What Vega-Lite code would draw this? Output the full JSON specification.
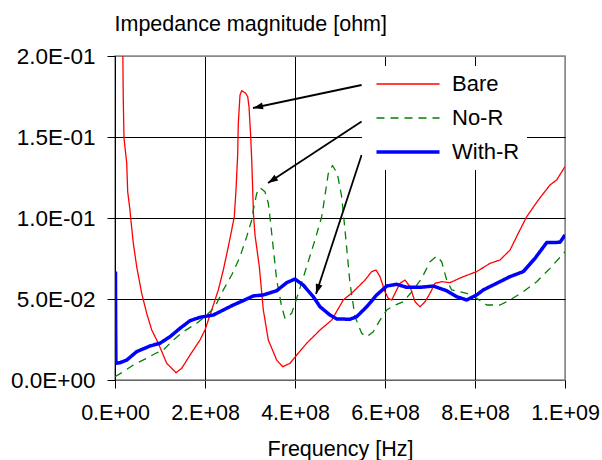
{
  "$schema": "https://vega.github.io/schema/vega-lite/v6.json",
  "autosize": {"type": "none"},
  "padding": {"left": 115, "top": 56, "right": 37, "bottom": 80},
  "width": 450,
  "height": 324,
  "config": {
    "font": "Liberation Sans",
    "view": {"stroke": "#888888", "strokeWidth": 1.5},
    "axis": {"labelColor": "black", "titleColor": "black", "titleFontWeight": "normal", "labelFontSize": 21.5, "titleFontSize": 21.5, "labelFont": "Liberation Sans", "titleFont": "Liberation Sans"}
  },
  "datasets": {
    "curves": [
      {"series": "Bare", "f": 0.165e8, "z": 0.23},
      {"series": "Bare", "f": 0.184e8, "z": 0.1728},
      {"series": "Bare", "f": 0.2e8, "z": 0.1492},
      {"series": "Bare", "f": 0.26e8, "z": 0.134},
      {"series": "Bare", "f": 0.282e8, "z": 0.1162},
      {"series": "Bare", "f": 0.333e8, "z": 0.1049},
      {"series": "Bare", "f": 0.349e8, "z": 0.0998},
      {"series": "Bare", "f": 0.407e8, "z": 0.0844},
      {"series": "Bare", "f": 0.482e8, "z": 0.07},
      {"series": "Bare", "f": 0.593e8, "z": 0.0535},
      {"series": "Bare", "f": 0.704e8, "z": 0.0412},
      {"series": "Bare", "f": 0.816e8, "z": 0.0309},
      {"series": "Bare", "f": 0.962e8, "z": 0.0227},
      {"series": "Bare", "f": 1.149e8, "z": 0.0103},
      {"series": "Bare", "f": 1.356e8, "z": 0.0045},
      {"series": "Bare", "f": 1.482e8, "z": 0.0072},
      {"series": "Bare", "f": 1.667e8, "z": 0.0154},
      {"series": "Bare", "f": 1.889e8, "z": 0.0247},
      {"series": "Bare", "f": 2.0e8, "z": 0.0309},
      {"series": "Bare", "f": 2.149e8, "z": 0.0432},
      {"series": "Bare", "f": 2.296e8, "z": 0.0556},
      {"series": "Bare", "f": 2.407e8, "z": 0.0679},
      {"series": "Bare", "f": 2.518e8, "z": 0.0823},
      {"series": "Bare", "f": 2.593e8, "z": 0.0926},
      {"series": "Bare", "f": 2.651e8, "z": 0.1008},
      {"series": "Bare", "f": 2.689e8, "z": 0.1173},
      {"series": "Bare", "f": 2.727e8, "z": 0.1399},
      {"series": "Bare", "f": 2.74e8, "z": 0.1585},
      {"series": "Bare", "f": 2.778e8, "z": 0.1759},
      {"series": "Bare", "f": 2.816e8, "z": 0.1786},
      {"series": "Bare", "f": 2.904e8, "z": 0.177},
      {"series": "Bare", "f": 2.949e8, "z": 0.1749},
      {"series": "Bare", "f": 2.978e8, "z": 0.1687},
      {"series": "Bare", "f": 3.016e8, "z": 0.1502},
      {"series": "Bare", "f": 3.038e8, "z": 0.1358},
      {"series": "Bare", "f": 3.06e8, "z": 0.1173},
      {"series": "Bare", "f": 3.078e8, "z": 0.1019},
      {"series": "Bare", "f": 3.111e8, "z": 0.0895},
      {"series": "Bare", "f": 3.207e8, "z": 0.07},
      {"series": "Bare", "f": 3.296e8, "z": 0.0432},
      {"series": "Bare", "f": 3.407e8, "z": 0.0247},
      {"series": "Bare", "f": 3.593e8, "z": 0.0123},
      {"series": "Bare", "f": 3.727e8, "z": 0.0082},
      {"series": "Bare", "f": 3.889e8, "z": 0.0103},
      {"series": "Bare", "f": 4.038e8, "z": 0.0154},
      {"series": "Bare", "f": 4.26e8, "z": 0.0227},
      {"series": "Bare", "f": 4.482e8, "z": 0.0288},
      {"series": "Bare", "f": 4.556e8, "z": 0.0309},
      {"series": "Bare", "f": 4.816e8, "z": 0.037},
      {"series": "Bare", "f": 5.073e8, "z": 0.0494},
      {"series": "Bare", "f": 5.296e8, "z": 0.0545},
      {"series": "Bare", "f": 5.556e8, "z": 0.0617},
      {"series": "Bare", "f": 5.704e8, "z": 0.0669},
      {"series": "Bare", "f": 5.8e8, "z": 0.0679},
      {"series": "Bare", "f": 5.889e8, "z": 0.0638},
      {"series": "Bare", "f": 6.0e8, "z": 0.0545},
      {"series": "Bare", "f": 6.073e8, "z": 0.0504},
      {"series": "Bare", "f": 6.149e8, "z": 0.0494},
      {"series": "Bare", "f": 6.26e8, "z": 0.0556},
      {"series": "Bare", "f": 6.333e8, "z": 0.0597},
      {"series": "Bare", "f": 6.444e8, "z": 0.0617},
      {"series": "Bare", "f": 6.556e8, "z": 0.0576},
      {"series": "Bare", "f": 6.667e8, "z": 0.0483},
      {"series": "Bare", "f": 6.778e8, "z": 0.0452},
      {"series": "Bare", "f": 6.889e8, "z": 0.0483},
      {"series": "Bare", "f": 7.0e8, "z": 0.0535},
      {"series": "Bare", "f": 7.111e8, "z": 0.0597},
      {"series": "Bare", "f": 7.26e8, "z": 0.0607},
      {"series": "Bare", "f": 7.444e8, "z": 0.0601},
      {"series": "Bare", "f": 7.74e8, "z": 0.0638},
      {"series": "Bare", "f": 8.038e8, "z": 0.0669},
      {"series": "Bare", "f": 8.333e8, "z": 0.072},
      {"series": "Bare", "f": 8.556e8, "z": 0.0741},
      {"series": "Bare", "f": 8.778e8, "z": 0.0802},
      {"series": "Bare", "f": 8.962e8, "z": 0.0906},
      {"series": "Bare", "f": 9.149e8, "z": 0.1008},
      {"series": "Bare", "f": 9.407e8, "z": 0.1111},
      {"series": "Bare", "f": 9.667e8, "z": 0.1204},
      {"series": "Bare", "f": 9.816e8, "z": 0.1235},
      {"series": "Bare", "f": 10.0e8, "z": 0.1317},
      {"series": "No-R", "f": 0, "z": 0.002},
      {"series": "No-R", "f": 0.184e8, "z": 0.0051},
      {"series": "No-R", "f": 0.407e8, "z": 0.0093},
      {"series": "No-R", "f": 0.704e8, "z": 0.0134},
      {"series": "No-R", "f": 0.927e8, "z": 0.0168},
      {"series": "No-R", "f": 1.073e8, "z": 0.0185},
      {"series": "No-R", "f": 1.296e8, "z": 0.0247},
      {"series": "No-R", "f": 1.518e8, "z": 0.0298},
      {"series": "No-R", "f": 1.816e8, "z": 0.035},
      {"series": "No-R", "f": 2.038e8, "z": 0.0401},
      {"series": "No-R", "f": 2.222e8, "z": 0.0452},
      {"series": "No-R", "f": 2.407e8, "z": 0.0556},
      {"series": "No-R", "f": 2.593e8, "z": 0.0648},
      {"series": "No-R", "f": 2.778e8, "z": 0.0761},
      {"series": "No-R", "f": 2.927e8, "z": 0.0885},
      {"series": "No-R", "f": 3.038e8, "z": 0.0988},
      {"series": "No-R", "f": 3.073e8, "z": 0.1049},
      {"series": "No-R", "f": 3.149e8, "z": 0.1152},
      {"series": "No-R", "f": 3.222e8, "z": 0.1187},
      {"series": "No-R", "f": 3.333e8, "z": 0.1162},
      {"series": "No-R", "f": 3.407e8, "z": 0.1091},
      {"series": "No-R", "f": 3.46e8, "z": 0.0967},
      {"series": "No-R", "f": 3.482e8, "z": 0.0906},
      {"series": "No-R", "f": 3.593e8, "z": 0.0617},
      {"series": "No-R", "f": 3.704e8, "z": 0.0452},
      {"series": "No-R", "f": 3.778e8, "z": 0.0381},
      {"series": "No-R", "f": 3.927e8, "z": 0.0412},
      {"series": "No-R", "f": 4.073e8, "z": 0.0535},
      {"series": "No-R", "f": 4.26e8, "z": 0.07},
      {"series": "No-R", "f": 4.444e8, "z": 0.0864},
      {"series": "No-R", "f": 4.593e8, "z": 0.1008},
      {"series": "No-R", "f": 4.629e8, "z": 0.107},
      {"series": "No-R", "f": 4.74e8, "z": 0.1275},
      {"series": "No-R", "f": 4.833e8, "z": 0.1324},
      {"series": "No-R", "f": 4.94e8, "z": 0.1275},
      {"series": "No-R", "f": 5.038e8, "z": 0.1131},
      {"series": "No-R", "f": 5.111e8, "z": 0.0926},
      {"series": "No-R", "f": 5.222e8, "z": 0.0597},
      {"series": "No-R", "f": 5.333e8, "z": 0.0391},
      {"series": "No-R", "f": 5.482e8, "z": 0.0288},
      {"series": "No-R", "f": 5.593e8, "z": 0.0267},
      {"series": "No-R", "f": 5.74e8, "z": 0.0298},
      {"series": "No-R", "f": 5.889e8, "z": 0.037},
      {"series": "No-R", "f": 6.038e8, "z": 0.0432},
      {"series": "No-R", "f": 6.184e8, "z": 0.0457},
      {"series": "No-R", "f": 6.407e8, "z": 0.0483},
      {"series": "No-R", "f": 6.629e8, "z": 0.0556},
      {"series": "No-R", "f": 6.816e8, "z": 0.0628},
      {"series": "No-R", "f": 7.0e8, "z": 0.073},
      {"series": "No-R", "f": 7.149e8, "z": 0.0765},
      {"series": "No-R", "f": 7.26e8, "z": 0.073},
      {"series": "No-R", "f": 7.371e8, "z": 0.0617},
      {"series": "No-R", "f": 7.482e8, "z": 0.0556},
      {"series": "No-R", "f": 7.667e8, "z": 0.0545},
      {"series": "No-R", "f": 7.816e8, "z": 0.0535},
      {"series": "No-R", "f": 8.038e8, "z": 0.0504},
      {"series": "No-R", "f": 8.26e8, "z": 0.0463},
      {"series": "No-R", "f": 8.556e8, "z": 0.0463},
      {"series": "No-R", "f": 8.778e8, "z": 0.0494},
      {"series": "No-R", "f": 9.073e8, "z": 0.0545},
      {"series": "No-R", "f": 9.371e8, "z": 0.0607},
      {"series": "No-R", "f": 9.667e8, "z": 0.0689},
      {"series": "No-R", "f": 10.0e8, "z": 0.0792},
      {"series": "With-R", "f": 0.01e8, "z": 0.0669},
      {"series": "With-R", "f": 0.015e8, "z": 0.03},
      {"series": "With-R", "f": 0.02e8, "z": 0.0103},
      {"series": "With-R", "f": 0.111e8, "z": 0.0107},
      {"series": "With-R", "f": 0.26e8, "z": 0.0123},
      {"series": "With-R", "f": 0.482e8, "z": 0.0175},
      {"series": "With-R", "f": 0.778e8, "z": 0.021},
      {"series": "With-R", "f": 1.0e8, "z": 0.0227},
      {"series": "With-R", "f": 1.222e8, "z": 0.0267},
      {"series": "With-R", "f": 1.444e8, "z": 0.0319},
      {"series": "With-R", "f": 1.667e8, "z": 0.0366},
      {"series": "With-R", "f": 1.889e8, "z": 0.0387},
      {"series": "With-R", "f": 2.184e8, "z": 0.0401},
      {"series": "With-R", "f": 2.407e8, "z": 0.0432},
      {"series": "With-R", "f": 2.629e8, "z": 0.0463},
      {"series": "With-R", "f": 2.851e8, "z": 0.049},
      {"series": "With-R", "f": 3.073e8, "z": 0.0519},
      {"series": "With-R", "f": 3.296e8, "z": 0.0525},
      {"series": "With-R", "f": 3.593e8, "z": 0.0551},
      {"series": "With-R", "f": 3.816e8, "z": 0.0601},
      {"series": "With-R", "f": 4.0e8, "z": 0.0623},
      {"series": "With-R", "f": 4.184e8, "z": 0.0586},
      {"series": "With-R", "f": 4.407e8, "z": 0.0514},
      {"series": "With-R", "f": 4.556e8, "z": 0.0452},
      {"series": "With-R", "f": 4.778e8, "z": 0.0401},
      {"series": "With-R", "f": 4.927e8, "z": 0.0377},
      {"series": "With-R", "f": 5.222e8, "z": 0.0375},
      {"series": "With-R", "f": 5.371e8, "z": 0.0391},
      {"series": "With-R", "f": 5.593e8, "z": 0.0452},
      {"series": "With-R", "f": 5.816e8, "z": 0.0525},
      {"series": "With-R", "f": 6.038e8, "z": 0.058},
      {"series": "With-R", "f": 6.26e8, "z": 0.0591},
      {"series": "With-R", "f": 6.482e8, "z": 0.0572},
      {"series": "With-R", "f": 6.778e8, "z": 0.0572},
      {"series": "With-R", "f": 7.073e8, "z": 0.058},
      {"series": "With-R", "f": 7.371e8, "z": 0.0551},
      {"series": "With-R", "f": 7.593e8, "z": 0.0514},
      {"series": "With-R", "f": 7.816e8, "z": 0.0494},
      {"series": "With-R", "f": 8.038e8, "z": 0.0525},
      {"series": "With-R", "f": 8.184e8, "z": 0.0556},
      {"series": "With-R", "f": 8.482e8, "z": 0.0597},
      {"series": "With-R", "f": 8.778e8, "z": 0.0638},
      {"series": "With-R", "f": 9.073e8, "z": 0.0669},
      {"series": "With-R", "f": 9.333e8, "z": 0.0751},
      {"series": "With-R", "f": 9.593e8, "z": 0.0848},
      {"series": "With-R", "f": 9.889e8, "z": 0.085},
      {"series": "With-R", "f": 10.0e8, "z": 0.0895}
    ],
    "arrows": [
      {"series": "Bare", "f": 5.48e8, "z": 0.1821, "f2": 3.067e8, "z2": 0.1679},
      {"series": "No-R", "f": 5.48e8, "z": 0.1595, "f2": 3.40e8, "z2": 0.1216},
      {"series": "With-R", "f": 5.48e8, "z": 0.1389, "f2": 4.467e8, "z2": 0.0531}
    ]
  },
  "layer": [
    {
      "data": {"name": "curves"},
      "mark": {"type": "line", "clip": true, "strokeJoin": "round"},
      "encoding": {
        "x": {
          "field": "f", "type": "quantitative",
          "scale": {"domain": [0, 1000000000], "nice": false, "zero": false},
          "axis": {
            "values": [0, 200000000, 400000000, 600000000, 800000000, 1000000000],
            "labelExpr": "['0.E+00','2.E+08','4.E+08','6.E+08','8.E+08','1.E+09'][round(datum.value/200000000)]",
            "title": "Frequency [Hz]",
            "grid": true,
            "gridColor": {"condition": {"test": "datum.value >= 999000000", "value": "#888888"}, "value": "black"},
            "gridOpacity": 1,
            "domainColor": "#666666",
            "tickColor": "black",
            "tickSize": 8,
            "labelPadding": 14,
            "titlePadding": 15,
            "labelFlush": false,
            "labelOverlap": false
          }
        },
        "y": {
          "field": "z", "type": "quantitative",
          "scale": {"domain": [0, 0.2], "nice": false, "zero": true},
          "axis": {
            "values": [0, 0.05, 0.1, 0.15, 0.2],
            "labelExpr": "['0.0E+00','5.0E-02','1.0E-01','1.5E-01','2.0E-01'][round(datum.value*20)]",
            "title": "Impedance magnitude [ohm]",
            "titleAngle": 0,
            "titleAlign": "left",
            "titleBaseline": "alphabetic",
            "titleX": -1,
            "titleY": -26,
            "grid": true,
            "gridColor": {"condition": {"test": "datum.value >= 0.199", "value": "#888888"}, "value": "black"},
            "gridOpacity": 1,
            "domainColor": "black",
            "tickColor": "black",
            "tickSize": 8,
            "labelPadding": 12,
            "labelFontSize": 22.5,
            "labelFlush": false,
            "labelOverlap": false
          }
        },
        "color": {
          "field": "series", "type": "nominal",
          "scale": {"domain": ["Bare", "No-R", "With-R"], "range": ["#ff0000", "#008000", "#0000ff"]},
          "legend": {"title": null, "orient": "none", "legendX": 247, "legendY": 10, "direction": "vertical", "symbolType": "M-1,0H17", "symbolSize": 49, "labelOffset": 61, "labelFontSize": 22, "labelFont": "Liberation Sans", "labelColor": "black", "fillColor": "white", "padding": 7, "rowPadding": 12}
        },
        "strokeDash": {
          "field": "series", "type": "nominal",
          "scale": {"domain": ["Bare", "No-R", "With-R"], "range": [[1, 0], [8, 6], [1, 0]]},
          "legend": {"title": null, "orient": "none", "legendX": 247, "legendY": 10, "direction": "vertical", "symbolType": "M-1,0H17", "symbolSize": 49, "labelOffset": 61, "labelFontSize": 22, "labelFont": "Liberation Sans", "labelColor": "black", "fillColor": "white", "padding": 7, "rowPadding": 12}
        },
        "strokeWidth": {
          "field": "series", "type": "nominal",
          "scale": {"type": "ordinal", "domain": ["Bare", "No-R", "With-R"], "range": [1.3, 1.3, 3.5]},
          "legend": {"title": null, "orient": "none", "legendX": 247, "legendY": 10, "direction": "vertical", "symbolType": "M-1,0H17", "symbolSize": 49, "labelOffset": 61, "labelFontSize": 22, "labelFont": "Liberation Sans", "labelColor": "black", "fillColor": "white", "padding": 7, "rowPadding": 12}
        }
      }
    },
    {
      "data": {"name": "arrows"},
      "mark": {"type": "rule", "color": "black", "strokeWidth": 1.8},
      "encoding": {
        "x": {"field": "f", "type": "quantitative"},
        "y": {"field": "z", "type": "quantitative"},
        "x2": {"field": "f2"},
        "y2": {"field": "z2"}
      }
    },
    {
      "data": {"name": "arrows"},
      "transform": [{"filter": "datum.series === 'Bare'"}],
      "mark": {"type": "point", "shape": "M0,0L-0.7,2L0.7,2Z", "filled": true, "color": "black", "opacity": 1, "size": 100, "angle": 258},
      "encoding": {
        "x": {"field": "f2", "type": "quantitative"},
        "y": {"field": "z2", "type": "quantitative"}
      }
    },
    {
      "data": {"name": "arrows"},
      "transform": [{"filter": "datum.series === 'No-R'"}],
      "mark": {"type": "point", "shape": "M0,0L-0.7,2L0.7,2Z", "filled": true, "color": "black", "opacity": 1, "size": 100, "angle": 237},
      "encoding": {
        "x": {"field": "f2", "type": "quantitative"},
        "y": {"field": "z2", "type": "quantitative"}
      }
    },
    {
      "data": {"name": "arrows"},
      "transform": [{"filter": "datum.series === 'With-R'"}],
      "mark": {"type": "point", "shape": "M0,0L-0.7,2L0.7,2Z", "filled": true, "color": "black", "opacity": 1, "size": 100, "angle": 198},
      "encoding": {
        "x": {"field": "f2", "type": "quantitative"},
        "y": {"field": "z2", "type": "quantitative"}
      }
    }
  ]
}
